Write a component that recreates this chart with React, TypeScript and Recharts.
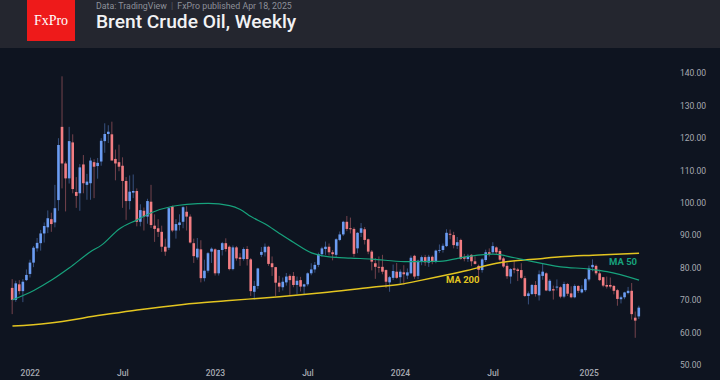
import { ComposedChart, Bar, Line, XAxis, YAxis } from "recharts";

// weekly bars, first one = week of 29 Nov 2021
const FIRST_WEEK = Date.UTC(2021, 10, 29);

const OPEN = [
  73.8, 70.1, 74.9, 72.8, 76.2, 78.1, 81.6, 86.0, 87.6, 90.6,
  92.5, 95.0, 94.0, 100.9, 123.5, 112.2, 107.6, 118.7, 103.4, 103.0,
  111.9, 105.6, 106.1, 112.6, 111.4, 112.8, 119.1, 121.3, 121.2, 113.6,
  112.6, 111.5, 106.8, 100.6, 103.2, 103.7, 94.2, 97.6, 95.8, 100.4,
  93.0, 92.2, 91.1, 86.5, 86.2, 98.9, 91.5, 93.2, 94.2, 97.3,
  95.8, 87.6, 83.2, 85.7, 76.8, 79.1, 85.0, 85.7, 78.3, 85.5,
  87.6, 86.5, 79.6, 86.3, 83.2, 82.7, 85.8, 82.6, 72.6, 74.4,
  84.0, 84.8, 86.5, 81.4, 80.2, 75.4, 74.0, 75.5, 77.5, 77.5,
  74.7, 76.2, 74.2, 74.9, 78.3, 79.5, 80.9, 84.2, 85.8, 86.5,
  84.8, 84.0, 88.6, 90.3, 94.2, 92.2, 92.0, 86.0, 90.8, 91.9,
  88.8, 85.0, 81.4, 80.3, 80.3, 79.3, 75.5, 76.9, 78.8, 77.1,
  78.6, 77.6, 78.3, 83.7, 77.5, 82.0, 83.3, 81.6, 83.4, 82.1,
  85.3, 85.5, 86.7, 90.5, 90.1, 86.8, 88.6, 83.3, 82.7, 84.0,
  82.0, 80.6, 79.3, 82.4, 84.8, 84.8, 86.3, 85.2, 82.9, 80.6,
  77.3, 79.8, 79.5, 79.3, 76.8, 71.3, 71.9, 74.7, 71.5, 77.5,
  78.3, 72.9, 73.4, 73.9, 74.0, 71.1, 75.0, 72.1, 70.9, 74.4,
  72.4, 73.1, 76.4, 80.2, 80.6, 78.3, 77.1, 74.7, 74.7, 74.4,
  73.1, 70.3, 70.9, 72.2, 72.9, 64.6, 65.0,
];

const HIGH = [
  76.5, 76.0, 76.2, 76.5, 79.5, 82.5, 86.7, 89.2, 91.7, 94.0,
  97.7, 97.0, 105.6, 120.0, 139.1, 112.8, 123.5, 121.2, 108.0, 112.0,
  114.8, 109.0, 114.0, 113.5, 113.9, 120.0, 124.6, 124.0, 125.1, 116.5,
  118.0, 114.1, 108.0, 108.5, 108.8, 104.5, 99.6, 98.6, 101.3, 105.6,
  96.5, 95.0, 93.0, 89.0, 98.7, 99.2, 95.0, 96.5, 99.0, 99.0,
  96.5, 89.0, 89.2, 88.5, 82.5, 84.9, 86.3, 86.0, 85.6, 88.0,
  89.1, 86.9, 86.9, 86.7, 84.5, 86.3, 86.7, 83.0, 76.0, 80.0,
  86.4, 87.5, 86.8, 83.5, 80.3, 77.5, 77.0, 78.4, 78.0, 78.7,
  77.3, 77.2, 75.1, 78.6, 81.4, 81.8, 84.7, 86.5, 88.1, 87.5,
  85.5, 89.1, 91.2, 94.5, 96.0, 95.5, 92.5, 91.0, 93.8, 92.6,
  89.0, 85.5, 83.0, 83.5, 84.0, 79.5, 77.5, 81.0, 81.5, 79.5,
  80.8, 79.8, 83.8, 84.0, 82.5, 83.8, 84.0, 84.0, 83.8, 85.6,
  87.2, 87.5, 91.9, 91.8, 91.1, 89.5, 89.0, 84.3, 84.3, 84.2,
  83.5, 81.0, 83.0, 85.6, 86.0, 87.9, 86.6, 85.8, 83.4, 81.5,
  79.9, 82.3, 80.0, 81.4, 77.5, 72.7, 75.0, 75.9, 79.2, 81.2,
  78.6, 76.5, 74.5, 76.4, 74.3, 75.7, 75.3, 74.3, 74.9, 74.6,
  74.6, 76.9, 80.7, 82.6, 81.0, 79.4, 77.2, 77.3, 77.0, 74.7,
  73.5, 71.4, 72.6, 74.1, 75.3, 66.5, 68.3,
];

const LOW = [
  65.7, 69.5, 71.8, 69.4, 75.9, 77.0, 80.2, 85.0, 85.3, 87.8,
  90.7, 91.1, 92.5, 97.6, 104.5, 97.4, 106.0, 103.0, 98.5, 97.6,
  103.0, 101.0, 101.0, 101.5, 107.5, 111.5, 115.5, 118.5, 117.0, 107.0,
  109.8, 98.5, 94.8, 98.0, 101.5, 92.8, 92.8, 91.5, 93.6, 92.3,
  88.0, 89.5, 84.9, 83.7, 85.5, 91.0, 89.0, 91.5, 92.2, 91.5,
  87.5, 81.5, 82.5, 75.5, 75.8, 78.5, 81.5, 77.6, 77.6, 83.8,
  85.0, 79.2, 79.2, 82.2, 80.6, 82.2, 80.7, 71.3, 70.1, 73.5,
  83.3, 83.5, 80.6, 77.5, 71.3, 72.5, 73.0, 74.5, 71.4, 74.0,
  71.8, 72.7, 71.9, 74.3, 77.7, 78.5, 80.2, 83.4, 84.0, 83.8,
  82.3, 83.3, 88.2, 89.8, 91.3, 90.6, 83.4, 84.5, 89.5, 87.2,
  84.2, 79.2, 76.6, 78.5, 78.0, 73.8, 72.6, 76.2, 76.6, 75.2,
  74.8, 76.5, 78.0, 76.6, 76.5, 80.8, 80.6, 80.3, 81.1, 81.4,
  84.6, 84.7, 86.4, 88.8, 86.0, 85.8, 82.5, 82.0, 81.8, 80.5,
  81.0, 76.8, 78.5, 81.8, 83.5, 84.3, 84.0, 82.0, 80.0, 76.6,
  75.1, 78.3, 75.9, 76.5, 71.0, 68.7, 71.6, 71.1, 69.9, 76.3,
  72.8, 72.6, 70.2, 73.0, 70.6, 70.6, 71.3, 70.6, 70.6, 72.2,
  72.1, 72.6, 75.8, 78.9, 77.7, 75.9, 74.0, 73.6, 73.6, 71.8,
  68.3, 69.0, 70.3, 71.8, 64.0, 58.4, 64.2,
];

const CLOSE = [
  70.1, 75.2, 72.8, 75.7, 77.8, 81.6, 86.2, 87.7, 90.6, 92.9,
  95.3, 93.5, 98.4, 117.9, 112.2, 107.6, 119.1, 104.3, 102.2, 111.0,
  106.1, 106.6, 113.1, 111.2, 112.4, 119.2, 121.3, 122.0, 113.1, 112.2,
  111.2, 106.8, 100.6, 103.5, 103.7, 94.2, 97.8, 95.8, 100.6, 93.2,
  92.0, 91.1, 86.5, 85.0, 98.4, 91.5, 93.5, 94.0, 98.7, 95.8,
  87.8, 83.6, 85.9, 76.8, 79.1, 84.5, 85.9, 78.3, 85.5, 87.6,
  85.8, 79.6, 86.3, 82.9, 82.7, 85.8, 82.7, 72.8, 74.4, 79.8,
  84.9, 86.5, 81.2, 80.2, 75.4, 74.2, 75.7, 77.3, 76.2, 74.7,
  76.0, 74.2, 74.9, 78.3, 79.5, 80.9, 84.2, 86.0, 86.5, 84.8,
  84.2, 88.8, 90.3, 94.2, 92.0, 91.9, 84.3, 90.8, 92.2, 88.6,
  85.0, 81.9, 80.3, 80.0, 78.8, 75.7, 77.1, 79.0, 76.9, 78.8,
  78.0, 78.6, 83.1, 77.3, 82.2, 83.3, 81.7, 83.4, 82.1, 85.3,
  85.5, 86.8, 90.8, 90.2, 87.0, 87.9, 82.8, 82.8, 83.7, 82.0,
  81.2, 79.4, 82.6, 84.8, 84.3, 86.7, 84.8, 82.5, 80.4, 77.4,
  79.6, 79.4, 79.0, 76.9, 71.3, 72.1, 74.7, 71.9, 78.0, 78.8,
  73.0, 76.0, 73.0, 74.2, 71.1, 75.0, 72.0, 70.9, 74.4, 72.9,
  73.4, 76.5, 79.8, 80.9, 78.3, 76.2, 74.5, 74.2, 74.2, 72.9,
  70.4, 70.9, 72.4, 72.9, 65.7, 63.7, 67.7,
];

// moving averages at these bar numbers
const MA50_AT = [0, 6, 11, 16, 22, 25, 30, 35, 39, 45, 49, 55, 61, 64, 67, 71, 75, 79, 84, 89, 95, 101, 110, 120, 128, 135, 141, 144, 154, 162, 167, 176];
const MA50 = [70.1, 73.0, 76.2, 80.0, 85.0, 87.0, 92.0, 94.8, 97.0, 99.0, 99.6, 99.9, 99.2, 98.0, 95.8, 93.5, 90.6, 87.8, 84.6, 83.4, 83.0, 82.7, 81.9, 82.0, 83.5, 84.2, 83.1, 82.4, 80.3, 79.6, 78.8, 76.2];
const MA200_AT = [0, 10, 25, 35, 48, 60, 75, 87, 101, 109, 115, 127, 136, 149, 154, 163, 176];
const MA200 = [62.0, 62.9, 65.4, 67.0, 68.7, 69.8, 71.1, 72.3, 74.0, 74.9, 76.2, 79.0, 81.4, 82.9, 83.4, 83.9, 84.5];

const PRICE_TICKS = [50, 60, 70, 80, 90, 100, 110, 120, 130, 140];

const BG = "#0e1420";
const HEADER = "#24262f";
const UP = "#6b9cf2";
const DOWN = "#f27d82";
const GREEN = "#17a27c";
const YELLOW = "#e3c520";
const AXIS = "#a7aab2";

const weekDate = (i: number) => new Date(FIRST_WEEK + i * 7 * 86400000);

const rows = OPEN.map((o, i) => {
  const a = MA50_AT.indexOf(i);
  const b = MA200_AT.indexOf(i);
  return {
    i,
    open: o,
    high: HIGH[i],
    low: LOW[i],
    close: CLOSE[i],
    range: [LOW[i], HIGH[i]],
    ma50: a >= 0 ? MA50[a] : null,
    ma200: b >= 0 ? MA200[b] : null,
  };
});

// first bar of January / July gets a label
const timeTicks: number[] = [];
rows.forEach((r) => {
  if (r.i === 0) return;
  const m = weekDate(r.i).getUTCMonth();
  const pm = weekDate(r.i - 1).getUTCMonth();
  if (m !== pm && (m === 0 || m === 6)) timeTicks.push(r.i);
});

const timeLabel = (i: number) => {
  const d = weekDate(i);
  return d.getUTCMonth() === 0 ? String(d.getUTCFullYear()) : "Jul";
};

function Candle(props: any) {
  const { x, y, width, height, payload } = props;
  if (!payload || height == null) return null;
  const { open, close, high, low } = payload;
  const color = close >= open ? UP : DOWN;
  const top0 = Math.min(y, y + height);
  const h = Math.abs(height);
  const span = high - low || 1;
  const py = (v: number) => top0 + ((high - v) / span) * h;
  const bTop = py(Math.max(open, close));
  const bBot = py(Math.min(open, close));
  const cx = x + width / 2;
  const bw = 2.6;
  return (
    <g>
      <line x1={cx} x2={cx} y1={top0} y2={top0 + h} stroke={color} strokeOpacity={0.45} strokeWidth={1} />
      <rect x={cx - bw / 2} y={bTop} width={bw} height={Math.max(bBot - bTop, 0.8)} fill={color} />
    </g>
  );
}

export default function App() {
  return (
    <div
      style={{
        position: "fixed",
        left: 0,
        top: 0,
        width: 720,
        height: 380,
        background: BG,
        overflow: "hidden",
        fontFamily: "Roboto, sans-serif",
      }}
    >
      {/* header */}
      <div style={{ position: "absolute", left: 0, top: 0, width: 720, height: 48, background: HEADER }}>
        <div
          style={{
            position: "absolute",
            left: 27,
            top: 0,
            width: 48,
            height: 41,
            background: "#ee1a1a",
            color: "#fff",
            fontFamily: "'Liberation Serif', serif",
            fontSize: 14,
            display: "flex",
            alignItems: "center",
            justifyContent: "center",
          }}
        >
          FxPro
        </div>
        <div
          style={{
            position: "absolute",
            left: 96,
            top: 1,
            fontSize: 8.8,
            lineHeight: "11px",
            color: "#8d9099",
            whiteSpace: "nowrap",
          }}
        >
          Data: TradingView <span style={{ color: "#5a5d66", margin: "0 2px" }}>|</span> FxPro published Apr 18, 2025
        </div>
        <div
          style={{
            position: "absolute",
            left: 96,
            top: 11,
            fontSize: 19.2,
            lineHeight: "22px",
            fontWeight: 500,
            color: "#f2f2f4",
            whiteSpace: "nowrap",
          }}
        >
          Brent Crude Oil, Weekly
        </div>
      </div>

      {/* chart */}
      <div style={{ position: "absolute", left: 0, top: 48 }}>
        <ComposedChart width={720} height={332} data={rows} margin={{ top: 0, right: 0, bottom: 0, left: 0 }}>
          <XAxis
            dataKey="i"
            type="number"
            domain={[-3.5, 185.25]}
            allowDataOverflow
            ticks={timeTicks}
            interval={0}
            tickFormatter={timeLabel}
            tickLine={false}
            axisLine={false}
            tickSize={0}
            tickMargin={5}
            height={15}
            tick={{ fill: AXIS, fontSize: 8.5, fontWeight: 500 }}
          />
          <YAxis
            orientation="right"
            domain={[50, 147.84]}
            allowDataOverflow
            ticks={PRICE_TICKS}
            interval={0}
            tickFormatter={(v: number) => v.toFixed(2)}
            tickLine={false}
            axisLine={false}
            width={48}
            tick={{ fill: AXIS, fontSize: 8.5 }}
          />
          <Bar dataKey="range" barSize={3} shape={<Candle />} isAnimationActive={false} />
          <Line
            dataKey="ma200"
            type="monotone"
            stroke={YELLOW}
            strokeWidth={1.5}
            dot={false}
            connectNulls
            isAnimationActive={false}
          />
          <Line
            dataKey="ma50"
            type="monotone"
            stroke={GREEN}
            strokeWidth={1.2}
            dot={false}
            connectNulls
            isAnimationActive={false}
          />
        </ComposedChart>
      </div>

      <div style={{ position: "absolute", left: 609, top: 256, fontSize: 9.5, fontWeight: 700, color: GREEN }}>MA 50</div>
      <div style={{ position: "absolute", left: 446, top: 274, fontSize: 9.5, fontWeight: 700, color: YELLOW }}>MA 200</div>
    </div>
  );
}
